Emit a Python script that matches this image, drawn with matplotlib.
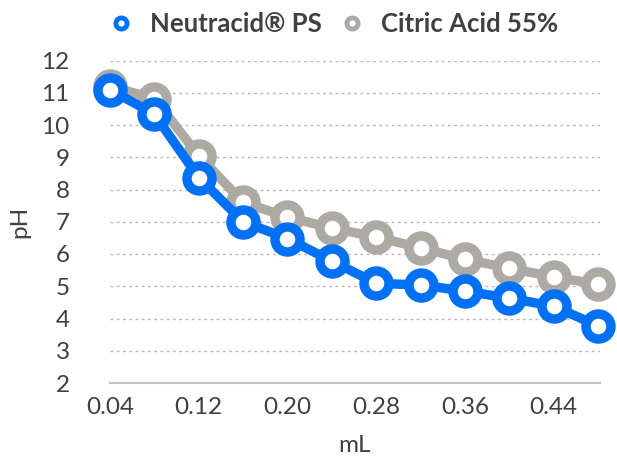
import matplotlib
matplotlib.use("Agg")
import matplotlib.pyplot as plt
from matplotlib.lines import Line2D

plt.rcParams['font.family'] = ['Lato', 'DejaVu Sans']

x_ml = [0.04, 0.08, 0.12, 0.16, 0.20, 0.24, 0.28, 0.32, 0.36, 0.40, 0.44, 0.48]
neutracid = [11.1, 10.33, 8.37, 7.0, 6.48, 5.78, 5.09, 5.04, 4.85, 4.63, 4.38, 3.77]
citric = [11.2, 10.82, 9.05, 7.6, 7.15, 6.8, 6.53, 6.19, 5.84, 5.56, 5.29, 5.06]
x_ticks = [0.04, 0.12, 0.20, 0.28, 0.36, 0.44]
x_tick_labels = ["0.04", "0.12", "0.20", "0.28", "0.36", "0.44"]
y_ticks = list(range(2, 13))
series_names = ["Neutracid® PS", "Citric Acid 55%"]

BLUE = "#0070F5"
GRAY = "#ADA9A3"
TXT = "#404040"

fig = plt.figure(figsize=(6.17, 4.57), dpi=100)
ax = fig.add_axes([110/617, 1-383/457, (600-110)/617, (383-60.5)/457])

ms = 18
mew = 6.8
lw = 6.8
ax.plot(x_ml, citric, color=GRAY, lw=lw, marker='o', ms=ms, mew=mew,
        mec=GRAY, mfc='white', zorder=3, clip_on=False)
ax.plot(x_ml, neutracid, color=BLUE, lw=lw, marker='o', ms=ms, mew=mew,
        mec=BLUE, mfc='white', zorder=4, clip_on=False)

ax.set_xlim(0.04, 0.4817)
ax.set_ylim(2, 12)
ax.set_yticks(y_ticks)
ax.set_xticks(x_ticks)
ax.set_xticklabels(x_tick_labels)
for y in y_ticks[1:]:
    ax.axhline(y, color="#B8B8B8", lw=1.0, ls=(0, (2, 2.5)), zorder=1)

for s in ['top', 'right', 'left']:
    ax.spines[s].set_visible(False)
ax.spines['bottom'].set_color("#BFBFBF")
ax.spines['bottom'].set_linewidth(1.5)
ax.tick_params(axis='both', length=0, labelsize=17.5, colors=TXT)
ax.tick_params(axis='y', pad=29)
ax.tick_params(axis='x', pad=10)
ax.set_xlabel("mL", fontsize=17.5, color=TXT, labelpad=12)
ax.set_ylabel("pH", fontsize=17.5, color=TXT, labelpad=8)

handles = [Line2D([], [], color=BLUE, marker='o', ls='none', ms=8, mew=3.5, mfc='white', mec=BLUE),
           Line2D([], [], color=GRAY, marker='o', ls='none', ms=8, mew=3.5, mfc='white', mec=GRAY)]
fig.legend(handles, series_names, loc='upper center', bbox_to_anchor=(0.54, 1.025), ncol=2,
           frameon=False, prop={'size': 18.5, 'weight': 'bold'}, labelcolor=TXT,
           handletextpad=0.6, columnspacing=0.7, handlelength=1.0)

fig.savefig("out.png", dpi=100)
